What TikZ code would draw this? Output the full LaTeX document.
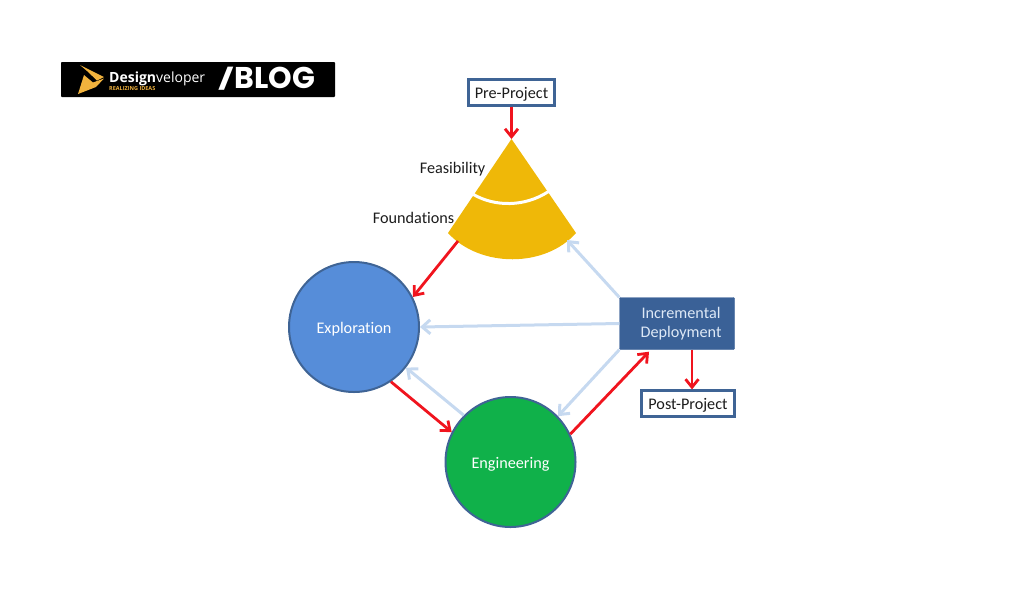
\documentclass[tikz,border=0pt]{standalone}
\usepackage{graphicx}
\usepackage{fontspec}
\setmainfont[Ligatures=NoCommon]{Carlito}
\newfontfamily\logofont{Open Sans}
\newfontfamily\blogfont{Poppins}
\usetikzlibrary{arrows.meta,calc}
\definecolor{edgeblue}{HTML}{3F6495}
\definecolor{explorefill}{HTML}{568DD9}
\definecolor{engfill}{HTML}{10B14A}
\definecolor{sectorfill}{HTML}{EFB808}
\definecolor{deployfill}{HTML}{3A6197}
\definecolor{softblue}{HTML}{C6D9F0}
\definecolor{flowred}{HTML}{F0141E}
\definecolor{logoyellow}{HTML}{F2B33D}
\definecolor{labelink}{HTML}{1C1C1C}
\tikzset{
  x=1pt,y=-1pt,
  bodyfont/.style={font=\fontsize{16.2}{19.5}\selectfont},
  labelbox/.style={draw=edgeblue,line width=2.2pt,fill=white,text=labelink,bodyfont,inner sep=0pt,rectangle,text height=14pt,text depth=2pt},
  phase/.style={circle,draw=edgeblue,line width=2pt,minimum size=130pt,inner sep=0pt,text=white,bodyfont,text height=14pt,text depth=2pt},
  sidetext/.style={text=labelink,bodyfont,inner sep=0pt},
  flow/.style={draw=flowred,line width=2.8pt,-{Straight Barb[length=8pt,width=13pt,line width=2.8pt]}},
  back/.style={draw=softblue,line width=3pt,-{Straight Barb[length=8pt,width=14pt,line width=3pt]}},
}
\begin{document}
\begin{tikzpicture}
\useasboundingbox (0,0) rectangle (1024,614);

% logo bar
\fill[black,rounded corners=0.8pt] (61,62) rectangle (335,97);
\fill[logoyellow] (80,65) -- (104,77) -- (97,80.5) -- (87,71) -- cycle;
\fill[logoyellow] (84,75) -- (93,82.5) -- (104,78.5) -- (96,87) -- (78,94) -- cycle;
\node[anchor=base west,inner sep=0pt,text=white,font=\logofont\fontsize{14}{16}\selectfont] (brand) at (109,82) {\textbf{Design}veloper};
\node[anchor=base west,inner sep=0pt,text=logoyellow,font=\logofont\bfseries\fontsize{5.5}{6}\selectfont] (tagline) at (109,90) {REALIZING IDEAS};
\node[anchor=base west,inner sep=0pt,text=white,font=\blogfont\bfseries\fontsize{30}{32}\selectfont] (blog) at (218,88) {\raisebox{1.5pt}{\scalebox{1.15}[0.68]{/}}\hspace{1pt}BLOG};

% funnel sector with its two bands
\coordinate (apex) at (511.5,139);
\coordinate (sectorL) at (458,241);
\coordinate (sectorR) at (567,240);
\fill[sectorfill] (apex) -- (576,233) .. controls (545,268) and (480,268) .. (448,233) -- cycle;
\draw[white,line width=3pt] (473.5,194.5) .. controls (495,207) and (525,207) .. (548.5,191.5);
\node[sidetext,anchor=east] (feas) at (485.5,169) {Feasibility};
\node[sidetext,anchor=east] (found) at (454.5,217.5) {Foundations};

% process nodes
\node[phase,fill=explorefill] (explore) at (354,327) {Exploration};
\node[phase,fill=engfill] (engineer) at (510.5,462) {Engineering};
\node[rectangle,rounded corners=1pt,draw=deployfill,fill=deployfill,minimum width=115pt,minimum height=52pt,inner sep=0pt,align=center,text=softblue!60!white,bodyfont] (deploy) at (677,323.5) {\hspace*{8pt}Incremental\\\hspace*{8pt}Deployment};
\node[labelbox,minimum width=86pt,minimum height=26pt] (pre) at (511.5,92.5) {Pre-Project};
\node[labelbox,minimum width=93pt,minimum height=26pt] (post) at (688,403.5) {Post-Project};

% feedback connectors
\draw[back] (deploy.north west) -- (sectorR);
\draw[back] (deploy.west) -- (explore.east);
\draw[back] (deploy.south west) -- (engineer.44);
\draw[back] (engineer.135) -- (explore.-38);

% forward connectors
\draw[flow] (pre.south) -- (apex);
\draw[flow] (sectorL) -- (explore.27);
\draw[flow] (explore.-56) -- (engineer.153);
\draw[flow] (engineer.25) -- ($(deploy.south)+(-28,2)$);
\draw[flow] ($(deploy.south)+(15,0)$) -- ($(post.north)+(4,0)$);
\end{tikzpicture}
\end{document}
